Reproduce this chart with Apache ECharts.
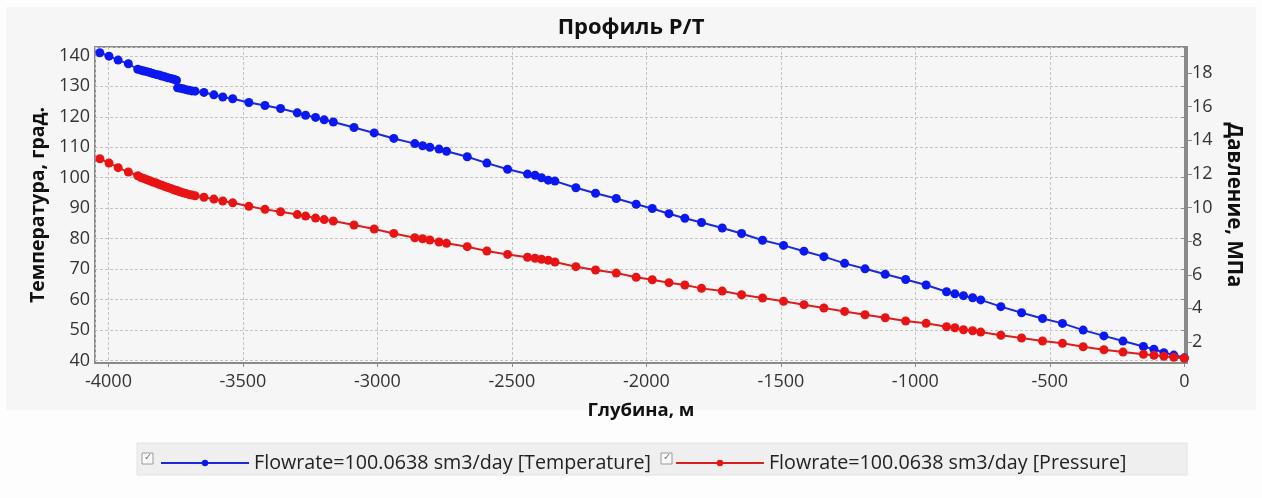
<!DOCTYPE html>
<html>
<head>
<meta charset="utf-8">
<script src="https://cdn.jsdelivr.net/npm/echarts@6/dist/echarts.min.js"></script>
<style>
html,body{margin:0;padding:0;background:#fdfdfd;}
#c{width:1262px;height:498px;}
</style>
</head>
<body>
<div id="c"></div>
<script>
// Depth, m
var depth = [-4032,-3998,-3964,-3926,-3891,-3879,-3868,-3857,-3846,-3835,-3823,-3812,-3801,-3790,-3779,-3768,-3757,-3747,-3743,-3734,-3723,-3712,-3701,-3690,-3678,-3645,-3608,-3575,-3538,-3478,-3418,-3360,-3298,-3267,-3230,-3198,-3164,-3087,-3012,-2939,-2861,-2832,-2805,-2771,-2743,-2666,-2593,-2516,-2442,-2414,-2390,-2365,-2340,-2262,-2189,-2112,-2038,-1978,-1916,-1857,-1795,-1718,-1646,-1568,-1490,-1414,-1340,-1263,-1187,-1112,-1036,-960,-884,-853,-821,-787,-757,-682,-605,-527,-453,-376,-299,-228,-152,-113,-76,-39,0];
// Temperature, deg
var temperature = [141.0,139.9,138.6,137.4,135.6,135.3,135.0,134.8,134.5,134.2,133.9,133.7,133.4,133.1,132.8,132.6,132.3,132.0,129.5,129.4,129.2,128.9,128.7,128.5,128.4,128.0,127.2,126.5,125.9,124.7,123.7,122.7,121.3,120.5,119.8,119.0,118.3,116.5,114.7,112.9,111.2,110.5,110.0,109.4,108.7,106.9,104.8,102.8,101.2,100.8,100.0,99.2,98.9,96.7,94.9,93.2,91.3,89.9,88.2,86.7,85.3,83.5,81.7,79.5,77.8,75.9,74.1,71.9,70.1,68.3,66.6,64.8,62.6,61.9,61.3,60.6,59.9,57.7,55.7,53.8,52.2,50.0,48.1,46.4,44.6,43.7,42.6,41.8,40.9];
// Pressure, MPa
var pressure = [12.90,12.65,12.37,12.11,11.89,11.78,11.72,11.65,11.59,11.52,11.46,11.38,11.32,11.25,11.19,11.13,11.06,11.01,10.99,10.94,10.88,10.83,10.78,10.74,10.70,10.61,10.50,10.39,10.28,10.07,9.89,9.75,9.58,9.49,9.37,9.28,9.20,8.96,8.72,8.46,8.20,8.14,8.07,7.95,7.87,7.67,7.41,7.21,7.04,6.98,6.92,6.86,6.76,6.48,6.28,6.10,5.85,5.70,5.53,5.39,5.19,5.03,4.81,4.62,4.42,4.22,4.02,3.82,3.62,3.44,3.25,3.11,2.91,2.85,2.73,2.67,2.59,2.40,2.24,2.06,1.92,1.72,1.54,1.40,1.27,1.21,1.15,1.09,1.03];

var titleText = 'Профиль P/T';
var xName = 'Глубина, м';
var yLeftName = 'Температура, град.';
var yRightName = 'Давление, МПа';
var seriesNames = ['Flowrate=100.0638 sm3/day [Temperature]', 'Flowrate=100.0638 sm3/day [Pressure]'];

function zip(a, b) { return a.map(function (v, i) { return [v, b[i]]; }); }
function plain(v) { return String(Math.round(v * 100) / 100); }

var FONT = 'Open Sans';
var chart = echarts.init(document.getElementById('c'), null, {renderer: 'canvas'});
chart.setOption({
  backgroundColor: '#fdfdfd',
  animation: false,
  textStyle: {fontFamily: FONT},
  title: {
    text: titleText, left: 'center', top: 12,
    textStyle: {fontFamily: FONT, fontSize: 22, fontWeight: 'bold', color: '#111'}
  },
  graphic: [
    {type: 'rect', z: -10, shape: {x: 6, y: 7, width: 1250, height: 403}, style: {fill: '#f6f6f6'}},
    {type: 'rect', z: -10, shape: {x: 137, y: 443, width: 1050, height: 32}, style: {fill: '#efefef', stroke: '#e2e2e2', lineWidth: 1}},
    {type: 'rect', shape: {x: 142, y: 453, width: 11, height: 11}, style: {fill: '#fafafa', stroke: '#9a9a9a', lineWidth: 1}},
    {type: 'text', style: {x: 144, y: 452, text: '✓', fontSize: 10, fill: '#777', fontFamily: 'DejaVu Sans'}},
    {type: 'rect', shape: {x: 661, y: 453, width: 11, height: 11}, style: {fill: '#fafafa', stroke: '#9a9a9a', lineWidth: 1}},
    {type: 'text', style: {x: 663, y: 452, text: '✓', fontSize: 10, fill: '#777', fontFamily: 'DejaVu Sans'}}
  ],
  legend: {
    left: 155, top: 448,
    itemWidth: 88, itemHeight: 8, itemGap: 24,
    textStyle: {fontFamily: FONT, fontSize: 19.7, color: '#222'},
    data: seriesNames
  },
  grid: {
    left: 95, right: 75, top: 47, bottom: 135,
    show: true, borderColor: '#8a8a8a', borderWidth: 2, backgroundColor: 'transparent'
  },
  xAxis: {
    type: 'value', min: -4050, max: 10, splitNumber: 8, minInterval: 500, maxInterval: 500,
    name: xName, nameLocation: 'middle', nameGap: 38,
    nameTextStyle: {fontFamily: FONT, fontSize: 18.5, fontWeight: 'bold', color: '#111'},
    axisLine: {show: true, lineStyle: {color: '#8a8a8a', width: 2}},
    axisTick: {show: true, length: 4, lineStyle: {color: '#8a8a8a'}},
    axisLabel: {fontFamily: FONT, fontSize: 18, color: '#333', margin: 10, showMinLabel: false, showMaxLabel: false, formatter: plain},
    splitLine: {show: true, lineStyle: {color: '#c4c4c4', type: [3, 2], width: 1}}
  },
  yAxis: [
    {
      type: 'value', position: 'left', min: 39.2, max: 142.9, splitNumber: 10, minInterval: 10, maxInterval: 10,
      name: yLeftName, nameLocation: 'middle', nameGap: 45,
      nameTextStyle: {fontFamily: FONT, fontSize: 19.5, fontWeight: 'bold', color: '#111'},
      axisLine: {show: true, lineStyle: {color: '#8a8a8a', width: 2}},
      axisTick: {show: true, length: 3, lineStyle: {color: '#8a8a8a'}},
      axisLabel: {fontFamily: FONT, fontSize: 18, color: '#333', margin: 5, showMinLabel: false, showMaxLabel: false, formatter: plain},
      splitLine: {show: true, lineStyle: {color: '#c4c4c4', type: [3, 2], width: 1}}
    },
    {
      type: 'value', position: 'right', min: 0.75, max: 19.55, splitNumber: 9, minInterval: 2, maxInterval: 2,
      name: yRightName, nameLocation: 'middle', nameGap: 35, nameRotate: -90,
      nameTextStyle: {fontFamily: FONT, fontSize: 20.5, fontWeight: 'bold', color: '#111'},
      axisLine: {show: true, lineStyle: {color: '#8a8a8a', width: 2}},
      axisTick: {show: true, length: 5, lineStyle: {color: '#8a8a8a'}},
      axisLabel: {fontFamily: FONT, fontSize: 18, color: '#333', margin: 5, showMinLabel: false, showMaxLabel: false, formatter: plain},
      splitLine: {show: false}
    }
  ],
  series: [
    {
      name: seriesNames[0], type: 'line', yAxisIndex: 0, data: zip(depth, temperature),
      symbol: 'circle', symbolSize: 9, showAllSymbol: true,
      lineStyle: {color: '#1a2ad8', width: 2},
      itemStyle: {color: '#0b18f0'}
    },
    {
      name: seriesNames[1], type: 'line', yAxisIndex: 1, data: zip(depth, pressure),
      symbol: 'circle', symbolSize: 9, showAllSymbol: true,
      lineStyle: {color: '#d82020', width: 2},
      itemStyle: {color: '#e81414'}
    }
  ]
});
</script>
</body>
</html>
